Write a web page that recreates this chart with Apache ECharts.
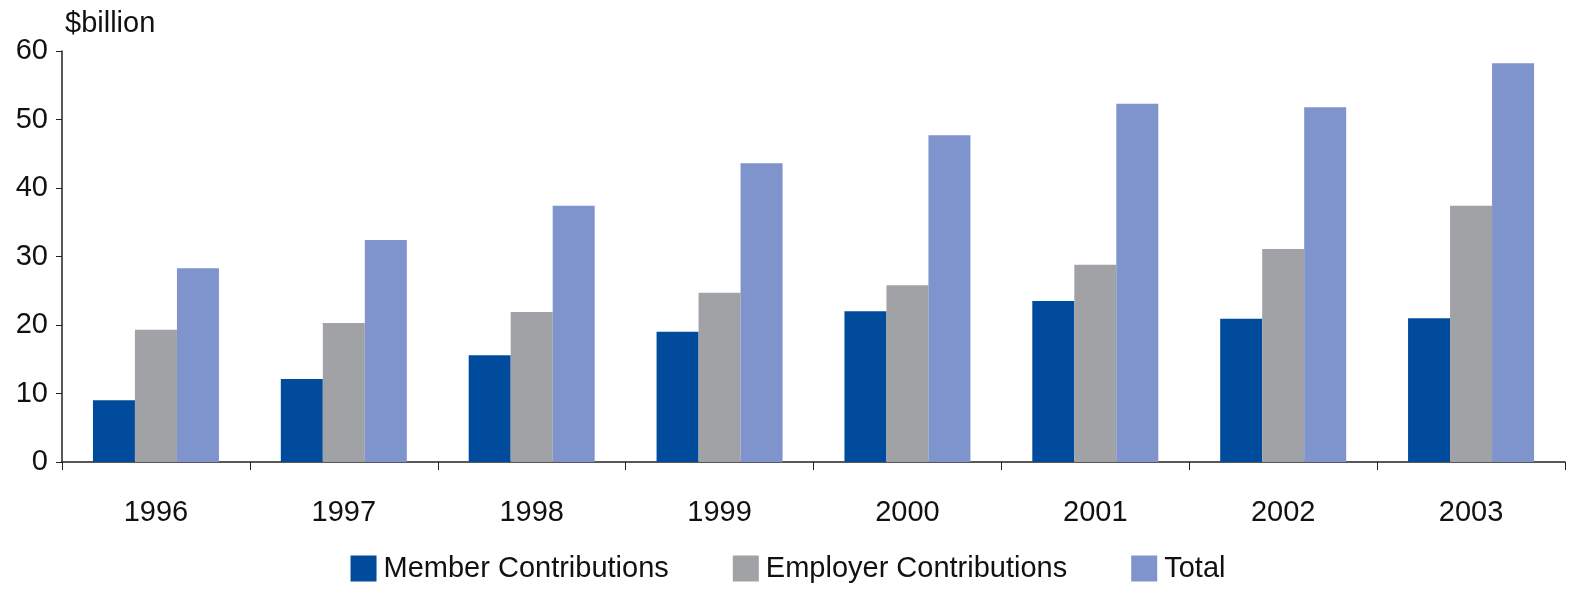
<!DOCTYPE html>
<html><head><meta charset="utf-8">
<script src="https://cdn.jsdelivr.net/npm/echarts@6/dist/echarts.min.js"></script>
<style>html,body{margin:0;padding:0;background:#fff}#chart{width:1576px;height:594px}</style>
</head><body><div id="chart"></div>
<script>
var years = ['1996', '1997', '1998', '1999', '2000', '2001', '2002', '2003'];
var member = [9.0, 12.1, 15.6, 19.0, 22.0, 23.5, 20.9, 21.0];
var employer = [19.3, 20.3, 21.9, 24.7, 25.8, 28.8, 31.1, 37.4];
var total = [28.3, 32.4, 37.4, 43.6, 47.7, 52.3, 51.8, 58.2];

var font = 'Liberation Sans, Arial, sans-serif';
var chart = echarts.init(document.getElementById('chart'));
chart.setOption({
	animation: false,
	grid: {left: 62, right: 11, top: 51, bottom: 132},
	title: {text: '$billion', left: 60, top: 4, textStyle: {fontFamily: font, fontSize: 29, fontWeight: 'normal', color: '#111'}},
	legend: {
		bottom: 6, left: 'center', itemWidth: 26, itemHeight: 26, itemGap: 64,
		icon: 'rect',
		textStyle: {fontFamily: font, fontSize: 29, color: '#111', padding: [0, 0, 0, 2]},
		data: ['Member Contributions', 'Employer Contributions', 'Total']
	},
	xAxis: {
		type: 'category', data: years,
		axisLine: {lineStyle: {color: '#222', width: 1.5}},
		axisTick: {show: true, length: 8, lineStyle: {color: '#222'}},
		axisLabel: {fontFamily: font, fontSize: 29, color: '#111', margin: 36}
	},
	yAxis: {
		type: 'value', min: 0, max: 60, interval: 10,
		splitLine: {show: false},
		axisLine: {show: true, lineStyle: {color: '#222', width: 1.5}},
		axisTick: {show: true, length: 6, lineStyle: {color: '#222'}},
		axisLabel: {fontFamily: font, fontSize: 29, color: '#111', margin: 14}
	},
	series: [
		{name: 'Member Contributions', type: 'bar', data: member, barWidth: 42, barGap: '0%', itemStyle: {color: '#004b9b'}},
		{name: 'Employer Contributions', type: 'bar', data: employer, barWidth: 42, itemStyle: {color: '#a0a2a5'}},
		{name: 'Total', type: 'bar', data: total, barWidth: 42, itemStyle: {color: '#7f93cc'}}
	]
});
</script></body></html>
